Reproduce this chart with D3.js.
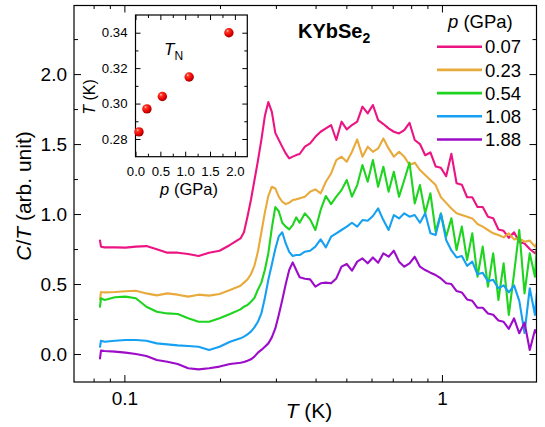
<!DOCTYPE html>
<html><head><meta charset="utf-8">
<script src="https://cdn.jsdelivr.net/npm/d3@7"></script>
<style>
body{margin:0;background:#fff}
svg{display:block}
text{font-family:"Liberation Sans",Arial,Helvetica,sans-serif;fill:#000}
</style>
</head><body>
<svg id="c" width="545" height="427"></svg>
<script>
// ---- data ----
const temps = [
0.0838,0.0844,0.0866,0.0934,0.1008,0.1087,0.1173,0.1265,0.1365,0.1472,0.1588,0.1713,0.1848,0.1994,0.2151,0.2321,
0.2380,0.2441,0.2503,0.2567,0.2633,0.2700,0.2769,0.2840,0.2913,0.2987,0.3063,0.3142,0.3222,0.3304,0.3389,0.3476,0.3564,
0.3702,0.3845,0.3994,0.4150,0.4310,0.4476,0.4649,0.4828,0.5015,0.5208,0.5410,0.5620,0.5837,0.6062,0.6296,0.6540,0.6792,0.7055,0.7327,0.7610,0.7904,0.8209,0.8527,0.8856,0.9198,0.9553,0.9925,1.031,1.071,1.112,1.155,1.200,1.246,1.294,1.344,1.396,1.450,1.506,1.564,1.624,1.687,1.752,1.820,1.890,1.963,
1.988];
const ct007 = [
0.81,0.767,0.762,0.762,0.76,0.767,0.771,0.748,0.724,0.724,0.714,0.70,0.724,0.738,0.779,0.826,
0.87,0.98,1.10,1.24,1.38,1.53,1.70,1.80,1.73,1.58,1.53,1.48,1.433,1.398,1.41,1.421,1.429,
1.481,1.505,1.552,1.588,1.612,1.636,1.529,1.66,1.605,1.636,1.66,1.767,1.719,1.779,1.671,1.643,1.612,1.588,1.576,1.6,1.652,1.529,1.50,1.42,1.44,1.34,1.33,1.27,1.43,1.22,1.21,1.12,1.12,1.05,1.05,0.98,0.97,0.89,0.88,0.83,0.87,0.80,0.79,0.75,0.72,
0.74];
const ct023 = [
0.39,0.443,0.44,0.443,0.448,0.452,0.433,0.419,0.433,0.424,0.41,0.424,0.417,0.429,0.457,0.488,
0.51,0.533,0.57,0.63,0.73,0.87,1.01,1.13,1.195,1.183,1.124,1.088,1.071,1.081,1.10,1.105,1.112,
1.124,1.16,1.176,1.148,1.231,1.29,1.386,1.41,1.374,1.445,1.533,1.41,1.481,1.445,1.469,1.54,1.469,1.41,1.445,1.41,1.35,1.367,1.314,1.279,1.243,1.207,1.12,1.08,1.04,1.005,0.993,0.981,0.969,0.929,0.91,0.886,0.862,0.85,0.833,0.862,0.819,0.826,0.802,0.81,0.767,
0.79];
const ct054 = [
0.338,0.398,0.386,0.405,0.41,0.398,0.338,0.302,0.29,0.286,0.255,0.231,0.231,0.255,0.286,0.319,
0.338,0.35,0.374,0.40,0.46,0.51,0.60,0.72,0.90,1.05,1.02,0.938,0.91,0.89,0.921,0.976,0.938,
1.005,0.962,0.886,1.029,1.129,1.071,1.124,1.171,1.243,1.124,1.207,1.35,1.231,1.386,1.195,1.338,1.16,1.302,1.124,1.243,1.367,1.076,1.207,1.005,1.148,0.874,1.005,0.838,0.969,0.743,0.91,0.671,0.862,0.552,0.767,0.481,0.719,0.386,0.648,0.279,0.576,0.886,0.433,0.719,0.552,
0.755];
const ct108 = [
0.052,0.095,0.088,0.095,0.10,0.10,0.095,0.076,0.069,0.062,0.057,0.052,0.029,0.052,0.088,0.112,
0.124,0.14,0.16,0.19,0.23,0.29,0.40,0.53,0.64,0.75,0.84,0.87,0.79,0.73,0.70,0.707,0.707,
0.731,0.738,0.767,0.819,0.762,0.838,0.862,0.886,0.91,0.938,0.91,0.957,0.952,0.986,1.04,0.957,0.886,0.993,0.969,1.005,0.981,0.993,0.938,1.005,0.862,0.85,1.0,0.814,0.74,0.69,0.70,0.63,0.66,0.57,0.58,0.52,0.53,0.47,0.49,0.44,0.49,0.38,0.15,0.47,0.28,
0.43];
const ct188 = [
-0.031,0.024,0.021,0.017,0.01,0.0,-0.014,-0.043,-0.055,-0.071,-0.102,-0.11,-0.102,-0.09,-0.071,-0.062,
-0.057,-0.048,-0.038,-0.019,0.01,0.029,0.052,0.076,0.119,0.183,0.279,0.386,0.50,0.60,0.655,0.60,0.548,
0.538,0.533,0.481,0.505,0.51,0.505,0.54,0.624,0.643,0.595,0.66,0.683,0.648,0.69,0.652,0.719,0.695,0.738,0.66,0.624,0.648,0.695,0.624,0.60,0.581,0.564,0.54,0.505,0.50,0.45,0.44,0.39,0.38,0.33,0.33,0.29,0.28,0.24,0.23,0.18,0.255,0.148,0.224,0.029,0.171,
0.148];
const pressureLabels = ["0.07","0.23","0.54","1.08","1.88"];
const seriesColors = ["#ec1483","#e9aa3c","#1fd41f","#16a0f2","#9d0cc9"];
const xMajorTicks = [0.1, 1];
const xMinorTicks = [0.08,0.09,0.2,0.3,0.4,0.5,0.6,0.7,0.8,0.9];
const yMajorTicks = [0, 0.5, 1.0, 1.5, 2.0];
const yMinorTicks = [0.25, 0.75, 1.25, 1.75, 2.25];
// inset
const insetP = [0.07, 0.23, 0.54, 1.08, 1.88];
const insetTN = [0.284, 0.297, 0.304, 0.315, 0.340];
const insetXMajor = [0, 0.5, 1.0, 1.5, 2.0];
const insetXMinor = [0.25, 0.75, 1.25, 1.75];
const insetYMajor = [0.28, 0.30, 0.32, 0.34];
const insetYMinor = [0.29, 0.31, 0.33];

// ---- drawing ----
const svg = d3.select("#c");
const L = 74, R = 536.5, T = 5.5, B = 382;
const x = d3.scaleLog().domain([0.0694, 1.985]).range([L, R]);
const y = d3.scaleLinear().domain([-0.2, 2.49]).range([B, T]);

const defs = svg.append("defs");
defs.append("clipPath").attr("id","clip").append("rect")
  .attr("x",L).attr("y",T).attr("width",R-L).attr("height",B-T);
const grad = defs.append("radialGradient").attr("id","ball")
  .attr("cx","38%").attr("cy","35%").attr("r","65%").attr("fx","35%").attr("fy","30%");
grad.append("stop").attr("offset","0%").attr("stop-color","#ffe0d8");
grad.append("stop").attr("offset","22%").attr("stop-color","#ff3a28");
grad.append("stop").attr("offset","70%").attr("stop-color","#e80000");
grad.append("stop").attr("offset","100%").attr("stop-color","#a00000");

function styleAxis(g, fs){
  g.select(".domain").remove();
  g.selectAll(".tick line").attr("stroke","#000").attr("stroke-width",1);
  g.selectAll(".tick text").attr("fill","#000").style("font-size",fs+"px")
   .style("font-family",'"Liberation Sans",Arial,sans-serif');
}
// main axes
svg.append("g").attr("transform",`translate(0,${B})`)
  .call(d3.axisBottom(x).tickValues(xMajorTicks).tickSize(-7).tickPadding(9.5).tickFormat(d3.format("")))
  .call(g=>styleAxis(g,19));
svg.append("g").attr("transform",`translate(0,${B})`)
  .call(d3.axisBottom(x).tickValues(xMinorTicks).tickSize(-3.5).tickFormat(""))
  .call(g=>styleAxis(g,19));
svg.append("g").attr("transform",`translate(0,${T})`)
  .call(d3.axisTop(x).tickValues(xMajorTicks).tickSize(-7).tickFormat(""))
  .call(g=>styleAxis(g,19));
svg.append("g").attr("transform",`translate(0,${T})`)
  .call(d3.axisTop(x).tickValues(xMinorTicks).tickSize(-3.5).tickFormat(""))
  .call(g=>styleAxis(g,19));
svg.append("g").attr("transform",`translate(${L},0)`)
  .call(d3.axisLeft(y).tickValues(yMajorTicks).tickSize(-7).tickPadding(7).tickFormat(d3.format(".1f")))
  .call(g=>styleAxis(g,19));
svg.append("g").attr("transform",`translate(${L},0)`)
  .call(d3.axisLeft(y).tickValues(yMinorTicks).tickSize(-4).tickFormat(""))
  .call(g=>styleAxis(g,19));
svg.append("g").attr("transform",`translate(${R},0)`)
  .call(d3.axisRight(y).tickValues(yMajorTicks).tickSize(-7).tickFormat(""))
  .call(g=>styleAxis(g,19));
svg.append("g").attr("transform",`translate(${R},0)`)
  .call(d3.axisRight(y).tickValues(yMinorTicks).tickSize(-4).tickFormat(""))
  .call(g=>styleAxis(g,19));

// curves
const series = [ct007, ct023, ct054, ct108, ct188];
const line = d3.line().x(d=>x(d[0])).y(d=>y(d[1]));
const curves = svg.append("g").attr("clip-path","url(#clip)");
series.forEach((vals,i)=>{
  const pts = temps.map((t,k)=>[t, vals[k]]).filter(d=>d[1]!==undefined);
  curves.append("path").datum(pts).attr("d",line)
    .attr("fill","none").attr("stroke",seriesColors[i]).attr("stroke-width",2.1)
    .attr("stroke-linejoin","round").attr("stroke-linecap","round");
});

// frame
svg.append("rect").attr("x",L).attr("y",T).attr("width",R-L).attr("height",B-T)
  .attr("fill","none").attr("stroke","#000").attr("stroke-width",1.2);

// axis titles
const yl = svg.append("text").attr("transform","translate(31,196) rotate(-90)")
  .attr("text-anchor","middle").style("font-size","21px");
yl.append("tspan").style("font-style","italic").text("C");
yl.append("tspan").text("/");
yl.append("tspan").style("font-style","italic").text("T");
yl.append("tspan").text(" (arb. unit)");
const xl = svg.append("text").attr("x",309).attr("y",418).attr("text-anchor","middle").style("font-size","21px");
xl.append("tspan").style("font-style","italic").text("T");
xl.append("tspan").text(" (K)");

// compound label
const kl = svg.append("text").attr("x",298).attr("y",38).style("font-size","20px").style("font-weight","bold");
kl.append("tspan").text("KYbSe");
kl.append("tspan").attr("dy",5).style("font-size","14px").text("2");

// legend
const lh = svg.append("text").attr("x",448).attr("y",28).style("font-size","18.5px");
lh.append("tspan").style("font-style","italic").text("p");
lh.append("tspan").text(" (GPa)");
const legend = svg.append("g");
pressureLabels.forEach((lab,i)=>{
  const yy = 46.7 + i*23.2;
  legend.append("line").attr("x1",437).attr("x2",482).attr("y1",yy).attr("y2",yy)
    .attr("stroke",seriesColors[i]).attr("stroke-width",2.6);
  legend.append("text").attr("x",485).attr("y",yy+6.7).style("font-size","18.5px").text(lab);
});

// ---- inset ----
const iL = 135.5, iR = 247.3, iT = 15, iB = 156.7;
const ix = d3.scaleLinear().domain([0, 2.25]).range([iL, iR]);
const iy = d3.scaleLinear().domain([0.27, 0.35]).range([iB, iT]);
svg.append("rect").attr("x",iL).attr("y",iT).attr("width",iR-iL).attr("height",iB-iT)
  .attr("fill","#fff").attr("stroke","none");
svg.append("g").attr("transform",`translate(0,${iB})`)
  .call(d3.axisBottom(ix).tickValues(insetXMajor).tickSize(-5).tickPadding(10).tickFormat(d3.format(".1f")))
  .call(g=>styleAxis(g,13.2));
svg.append("g").attr("transform",`translate(0,${iB})`)
  .call(d3.axisBottom(ix).tickValues(insetXMinor).tickSize(-3).tickFormat(""))
  .call(g=>styleAxis(g,13));
svg.append("g").attr("transform",`translate(0,${iT})`)
  .call(d3.axisTop(ix).tickValues(insetXMajor).tickSize(-5).tickFormat(""))
  .call(g=>styleAxis(g,13));
svg.append("g").attr("transform",`translate(0,${iT})`)
  .call(d3.axisTop(ix).tickValues(insetXMinor).tickSize(-3).tickFormat(""))
  .call(g=>styleAxis(g,13));
svg.append("g").attr("transform",`translate(${iL},0)`)
  .call(d3.axisLeft(iy).tickValues(insetYMajor).tickSize(-5).tickPadding(8).tickFormat(d3.format(".2f")))
  .call(g=>styleAxis(g,13.2));
svg.append("g").attr("transform",`translate(${iL},0)`)
  .call(d3.axisLeft(iy).tickValues(insetYMinor).tickSize(-3).tickFormat(""))
  .call(g=>styleAxis(g,13));
svg.append("g").attr("transform",`translate(${iR},0)`)
  .call(d3.axisRight(iy).tickValues(insetYMajor).tickSize(-5).tickFormat(""))
  .call(g=>styleAxis(g,13));
svg.append("g").attr("transform",`translate(${iR},0)`)
  .call(d3.axisRight(iy).tickValues(insetYMinor).tickSize(-3).tickFormat(""))
  .call(g=>styleAxis(g,13));
svg.append("rect").attr("x",iL).attr("y",iT).attr("width",iR-iL).attr("height",iB-iT)
  .attr("fill","none").attr("stroke","#000").attr("stroke-width",1.2);

svg.append("g").selectAll("circle").data(insetP.map((p,i)=>[p,insetTN[i]])).join("circle")
  .attr("cx",d=>ix(d[0])).attr("cy",d=>iy(d[1])).attr("r",4.7).attr("fill","url(#ball)");

const tn = svg.append("text").attr("x",164).attr("y",55).style("font-size","17px");
tn.append("tspan").style("font-style","italic").text("T");
tn.append("tspan").attr("dy",5).style("font-size","12px").text("N");

const iyl = svg.append("text").attr("transform","translate(95,97) rotate(-90)")
  .attr("text-anchor","middle").style("font-size","16px");
iyl.append("tspan").style("font-style","italic").text("T");
iyl.append("tspan").text(" (K)");
const ixl = svg.append("text").attr("x",189).attr("y",195).attr("text-anchor","middle").style("font-size","16.5px");
ixl.append("tspan").style("font-style","italic").text("p");
ixl.append("tspan").text(" (GPa)");
</script>
</body></html>
